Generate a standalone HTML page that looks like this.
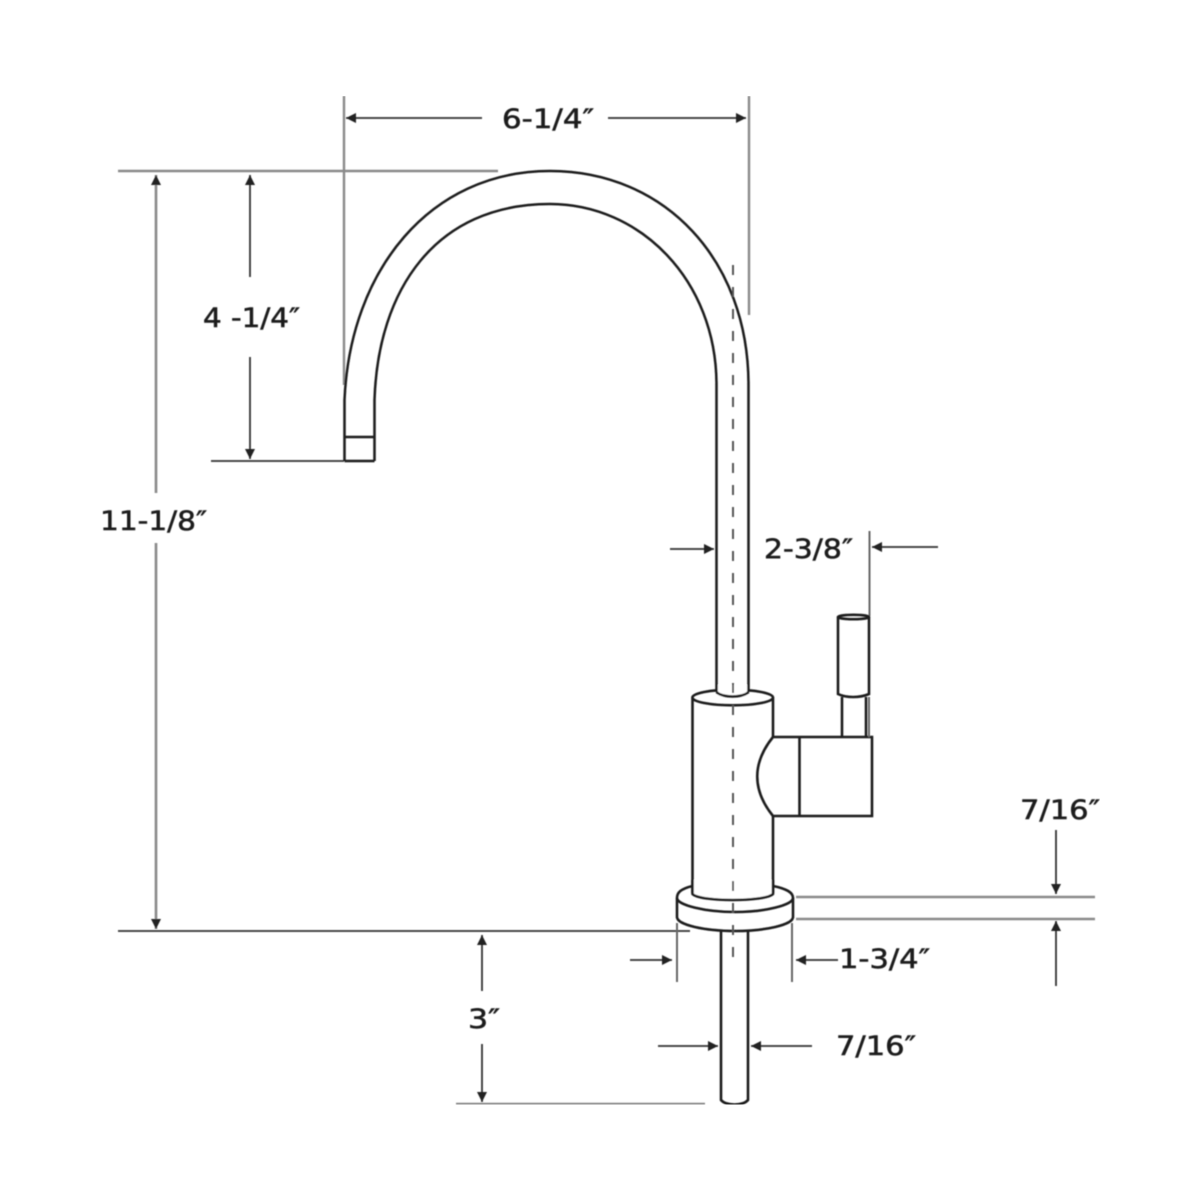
<!DOCTYPE html>
<html>
<head>
<meta charset="utf-8">
<style>
html,body{margin:0;padding:0;background:#fff}
svg{display:block}
text{font-family:"DejaVu Sans",sans-serif;font-size:27px;fill:#1c1c1c;stroke:#1c1c1c;stroke-width:.55}
.o{fill:none;stroke:#1c1c1c;stroke-width:2.6}
.w{fill:#fff;stroke:#1c1c1c;stroke-width:2.6}
.t{fill:none;stroke:#1c1c1c;stroke-width:2.5}
.d{fill:none;stroke:#333;stroke-width:1.8}
.dg{fill:none;stroke:#888;stroke-width:2.6}
.g{fill:none;stroke:#8a8a8a;stroke-width:2.4}
.g2{fill:none;stroke:#666;stroke-width:2}
.dk{fill:none;stroke:#333;stroke-width:1.8}
.c{fill:none;stroke:#555;stroke-width:2;stroke-dasharray:10 12}
</style>
</head>
<body>
<svg width="1200" height="1200" viewBox="0 0 1200 1200" xmlns="http://www.w3.org/2000/svg">
<defs>
<marker id="a" viewBox="0 0 10 10" refX="10" refY="5" markerWidth="10" markerHeight="10" markerUnits="userSpaceOnUse" orient="auto-start-reverse"><path d="M0 0L10 5L0 10Z" fill="#222"/></marker>
<filter id="b" x="0" y="0" width="100%" height="100%"><feGaussianBlur stdDeviation="0.45"/></filter>
</defs>
<rect width="1200" height="1200" fill="#fff"/>
<g filter="url(#b)">

<!-- extension lines -->
<path class="g" d="M118 171H498M456 1104H705M796 897H1095M796 919H1095"/>
<path class="g" d="M344 96V385M749 96V315"/>
<path class="dk" d="M118 931H690M211 461H344"/>
<path class="g2" d="M869.500 531V616M677 923V982M792 923V982"/>

<!-- body -->
<path class="o" d="M692.500 698V893M773 698V737M773 816V893"/>
<ellipse class="o" cx="732.700" cy="697.500" rx="40.300" ry="7.800"/>
<rect x="717" y="685" width="31" height="12" fill="#fff"/>

<!-- spout and riser -->
<path class="t" d="M344.500 461V400C350 270 430 171 550 171C665 171 748.500 260 748.500 385V692"/>
<path class="t" d="M374.500 461V400C378 290 435 204 550 204C640 204 716.500 280 716.500 385V692"/>
<path class="o" d="M716.500 692C722 698 743 698 748.500 692"/>
<path class="t" d="M344.500 461H374.500M344.500 437H374.500"/>

<!-- handle -->
<path class="o" d="M773 737H872V816H773C752 790 752 763 773 737Z"/>
<path class="o" d="M799.500 737V816"/>
<path class="o" d="M842 697V737M866 697V737"/>
<path class="g2" d="M869 697V737"/>
<path class="o" d="M838 617V694C846 698 860 698 869 694V617"/>
<ellipse class="o" cx="853.500" cy="617" rx="15.500" ry="2.200"/>

<!-- base -->
<path class="o" d="M692.500 886C680 889 677 893 677 898C677 905 705 912 735 912C765 912 793 905 793 898C793 893 788 889 773 886"/>
<path class="o" d="M677 898V917C677 925 705 931 735 931C765 931 793 925 793 917V898"/>
<path class="w" d="M692.500 880V894C700 902 765 902 773 894V880"/>

<!-- lower stem -->
<path class="o" d="M721 931V1100C726 1106 743 1106 748 1100V931"/>

<!-- centre line -->
<path class="c" d="M733 265V960"/>

<!-- dimension arrows -->
<g class="d">
<path d="M482 118H346" marker-end="url(#a)"/>
<path d="M608 118H746" marker-end="url(#a)"/>
<path d="M250 277V175" marker-end="url(#a)"/>
<path d="M250 357V459" marker-end="url(#a)"/>
<path class="dg" d="M156 493V175" marker-end="url(#a)"/>
<path class="dg" d="M156 543V929" marker-end="url(#a)"/>
<path d="M670 549H714" marker-end="url(#a)"/>
<path d="M938 547H872" marker-end="url(#a)"/>
<path d="M1056 830V894" marker-end="url(#a)"/>
<path d="M1056 986V921" marker-end="url(#a)"/>
<path d="M630 960H672" marker-end="url(#a)"/>
<path d="M838 960H796" marker-end="url(#a)"/>
<path d="M658 1046H718" marker-end="url(#a)"/>
<path d="M812 1046H751" marker-end="url(#a)"/>
<path d="M482 991V935" marker-end="url(#a)"/>
<path d="M482 1044V1102" marker-end="url(#a)"/>
</g>

<!-- labels -->
<text x="502" y="128" textLength="92" lengthAdjust="spacingAndGlyphs">6-1/4″</text>
<text x="203" y="327" textLength="97" lengthAdjust="spacingAndGlyphs">4 -1/4″</text>
<text x="100" y="530" textLength="107" lengthAdjust="spacingAndGlyphs">11-1/8″</text>
<text x="764" y="558" textLength="89" lengthAdjust="spacingAndGlyphs">2-3/8″</text>
<text x="1020" y="819" textLength="80" lengthAdjust="spacingAndGlyphs">7/16″</text>
<text x="839" y="968" textLength="91" lengthAdjust="spacingAndGlyphs">1-3/4″</text>
<text x="836" y="1055" textLength="80" lengthAdjust="spacingAndGlyphs">7/16″</text>
<text x="468" y="1028" textLength="32" lengthAdjust="spacingAndGlyphs">3″</text>
</g>
</svg>
</body>
</html>
